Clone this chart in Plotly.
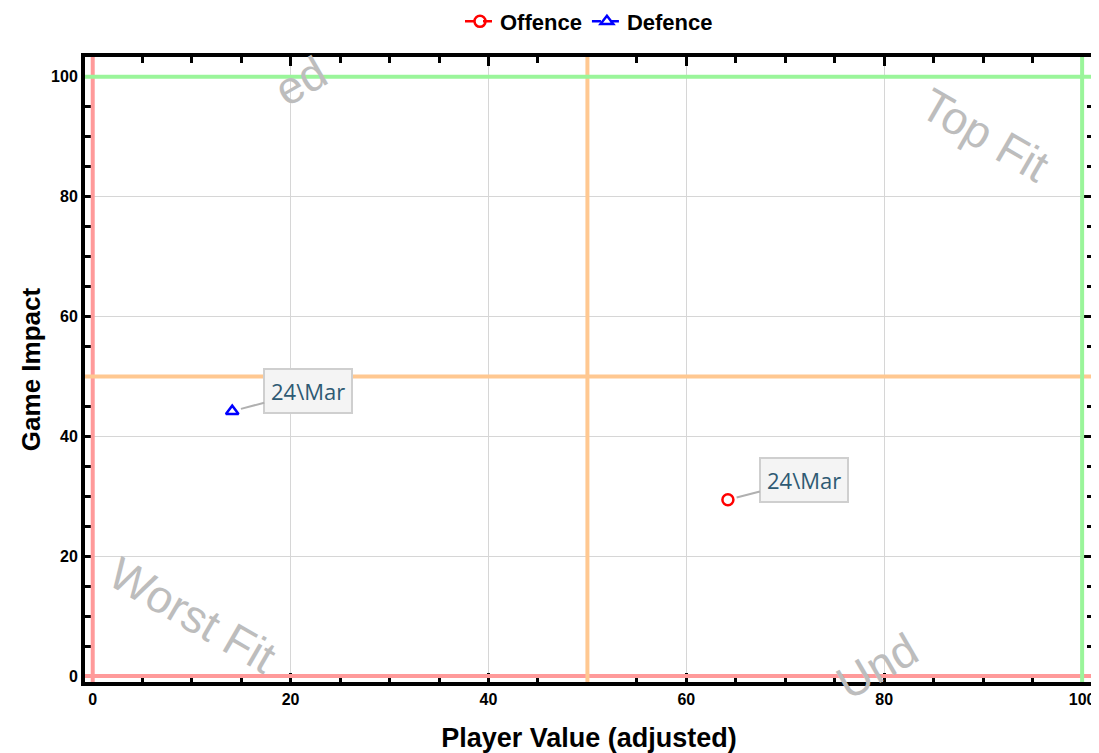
import plotly.graph_objects as go

# data
series_names = ["Offence", "Defence"]
player_value = [64.2, 14.1]
game_impact = [29.4, 44.2]
point_labels = ["24\\Mar", "24\\Mar"]
series_colors = ["#ff0000", "#0000ff"]
series_symbols = ["circle-open", "triangle-up-open"]

quadrant_text = ["Worst Fit", "Top Fit", "ed", "Und"]
quadrant_x = [10.1, 90.2, 21.0, 79.3]
quadrant_y = [10.2, 90.3, 99.3, 1.6]
quadrant_angle = [30, 30, -30, -30]

ref_values = [0, 50, 100]
ref_colors = ["#ff9a9a", "#ffc891", "#9af59a"]

THEME = {
    "frame": "#000000",
    "grid": "#d6d6d6",
    "watermark": "#bdbdbd",
    "label_text": "#2e5a73",
}

fig = go.Figure()

for name, x, y, col, sym in zip(series_names, player_value, game_impact,
                                series_colors, series_symbols):
    fig.add_trace(go.Scatter(
        x=[x], y=[y], name=name, mode="lines+markers",
        line=dict(color=col, dash="dash", width=2.5),
        marker=dict(symbol=sym, size=11, color=col, line=dict(width=2.5, color=col)),
        cliponaxis=False,
    ))

# reference lines (0, 50, 100)
for v, col in zip(ref_values, ref_colors):
    fig.add_shape(type="line", xref="x", yref="paper", x0=v, x1=v, y0=0, y1=1,
                  line=dict(color=col, width=4), layer="above")
    fig.add_shape(type="line", xref="paper", yref="y", x0=0, x1=1, y0=v, y1=v,
                  line=dict(color=col, width=4), layer="above")

# callout labels
for x, y, lab in zip(player_value, game_impact, point_labels):
    fig.add_annotation(
        x=x, y=y, text=lab, showarrow=True, arrowhead=0, arrowwidth=2,
        arrowcolor="#b0b0b0", ax=76, ay=-20, standoff=9,
        font=dict(family="Open Sans", size=22, color=THEME["label_text"]),
        bgcolor="#f4f4f4", bordercolor="#cfcfcf", borderwidth=2, borderpad=6,
    )

# faded quadrant captions
for t, x, y, a in zip(quadrant_text, quadrant_x, quadrant_y, quadrant_angle):
    fig.add_annotation(
        x=x, y=y, text=t, showarrow=False, textangle=a,
        font=dict(family="Liberation Sans", size=46, color=THEME["watermark"]),
    )

axis_common = dict(
    showline=True, linewidth=4, linecolor=THEME["frame"], mirror="allticks",
    ticks="inside", ticklen=9, tickwidth=3, tickcolor=THEME["frame"],
    showgrid=True, gridcolor=THEME["grid"], gridwidth=1, zeroline=False,
    dtick=20, tick0=0, automargin=False,
    minor=dict(dtick=5, ticks="inside", ticklen=6, tickwidth=3,
               tickcolor=THEME["frame"], showgrid=False),
    tickfont=dict(family="Liberation Sans", size=16, color="#000000", weight="bold"),
)

# page body adds an 8px offset, so margins are trimmed to compensate
fig.update_layout(
    width=1099, height=753,
    paper_bgcolor="white", plot_bgcolor="white",
    margin=dict(l=77, r=14, t=49, b=79),
    showlegend=True,
    legend=dict(orientation="h", x=0.5, xanchor="center", y=0.982, yanchor="middle",
                yref="container",
                font=dict(family="Liberation Sans", size=22, color="#000000", weight="bold")),
    xaxis=dict(**axis_common, range=[-0.78, 101.1],
               title=dict(text="Player Value (adjusted)", standoff=22,
                          font=dict(family="Liberation Sans", size=27, color="#000000", weight="bold"))),
    yaxis=dict(**axis_common, range=[-1.0, 103.3],
               title=dict(text="Game Impact", standoff=4,
                          font=dict(family="Liberation Sans", size=26, color="#000000", weight="bold"))),
)

fig.write_html("out.html")
